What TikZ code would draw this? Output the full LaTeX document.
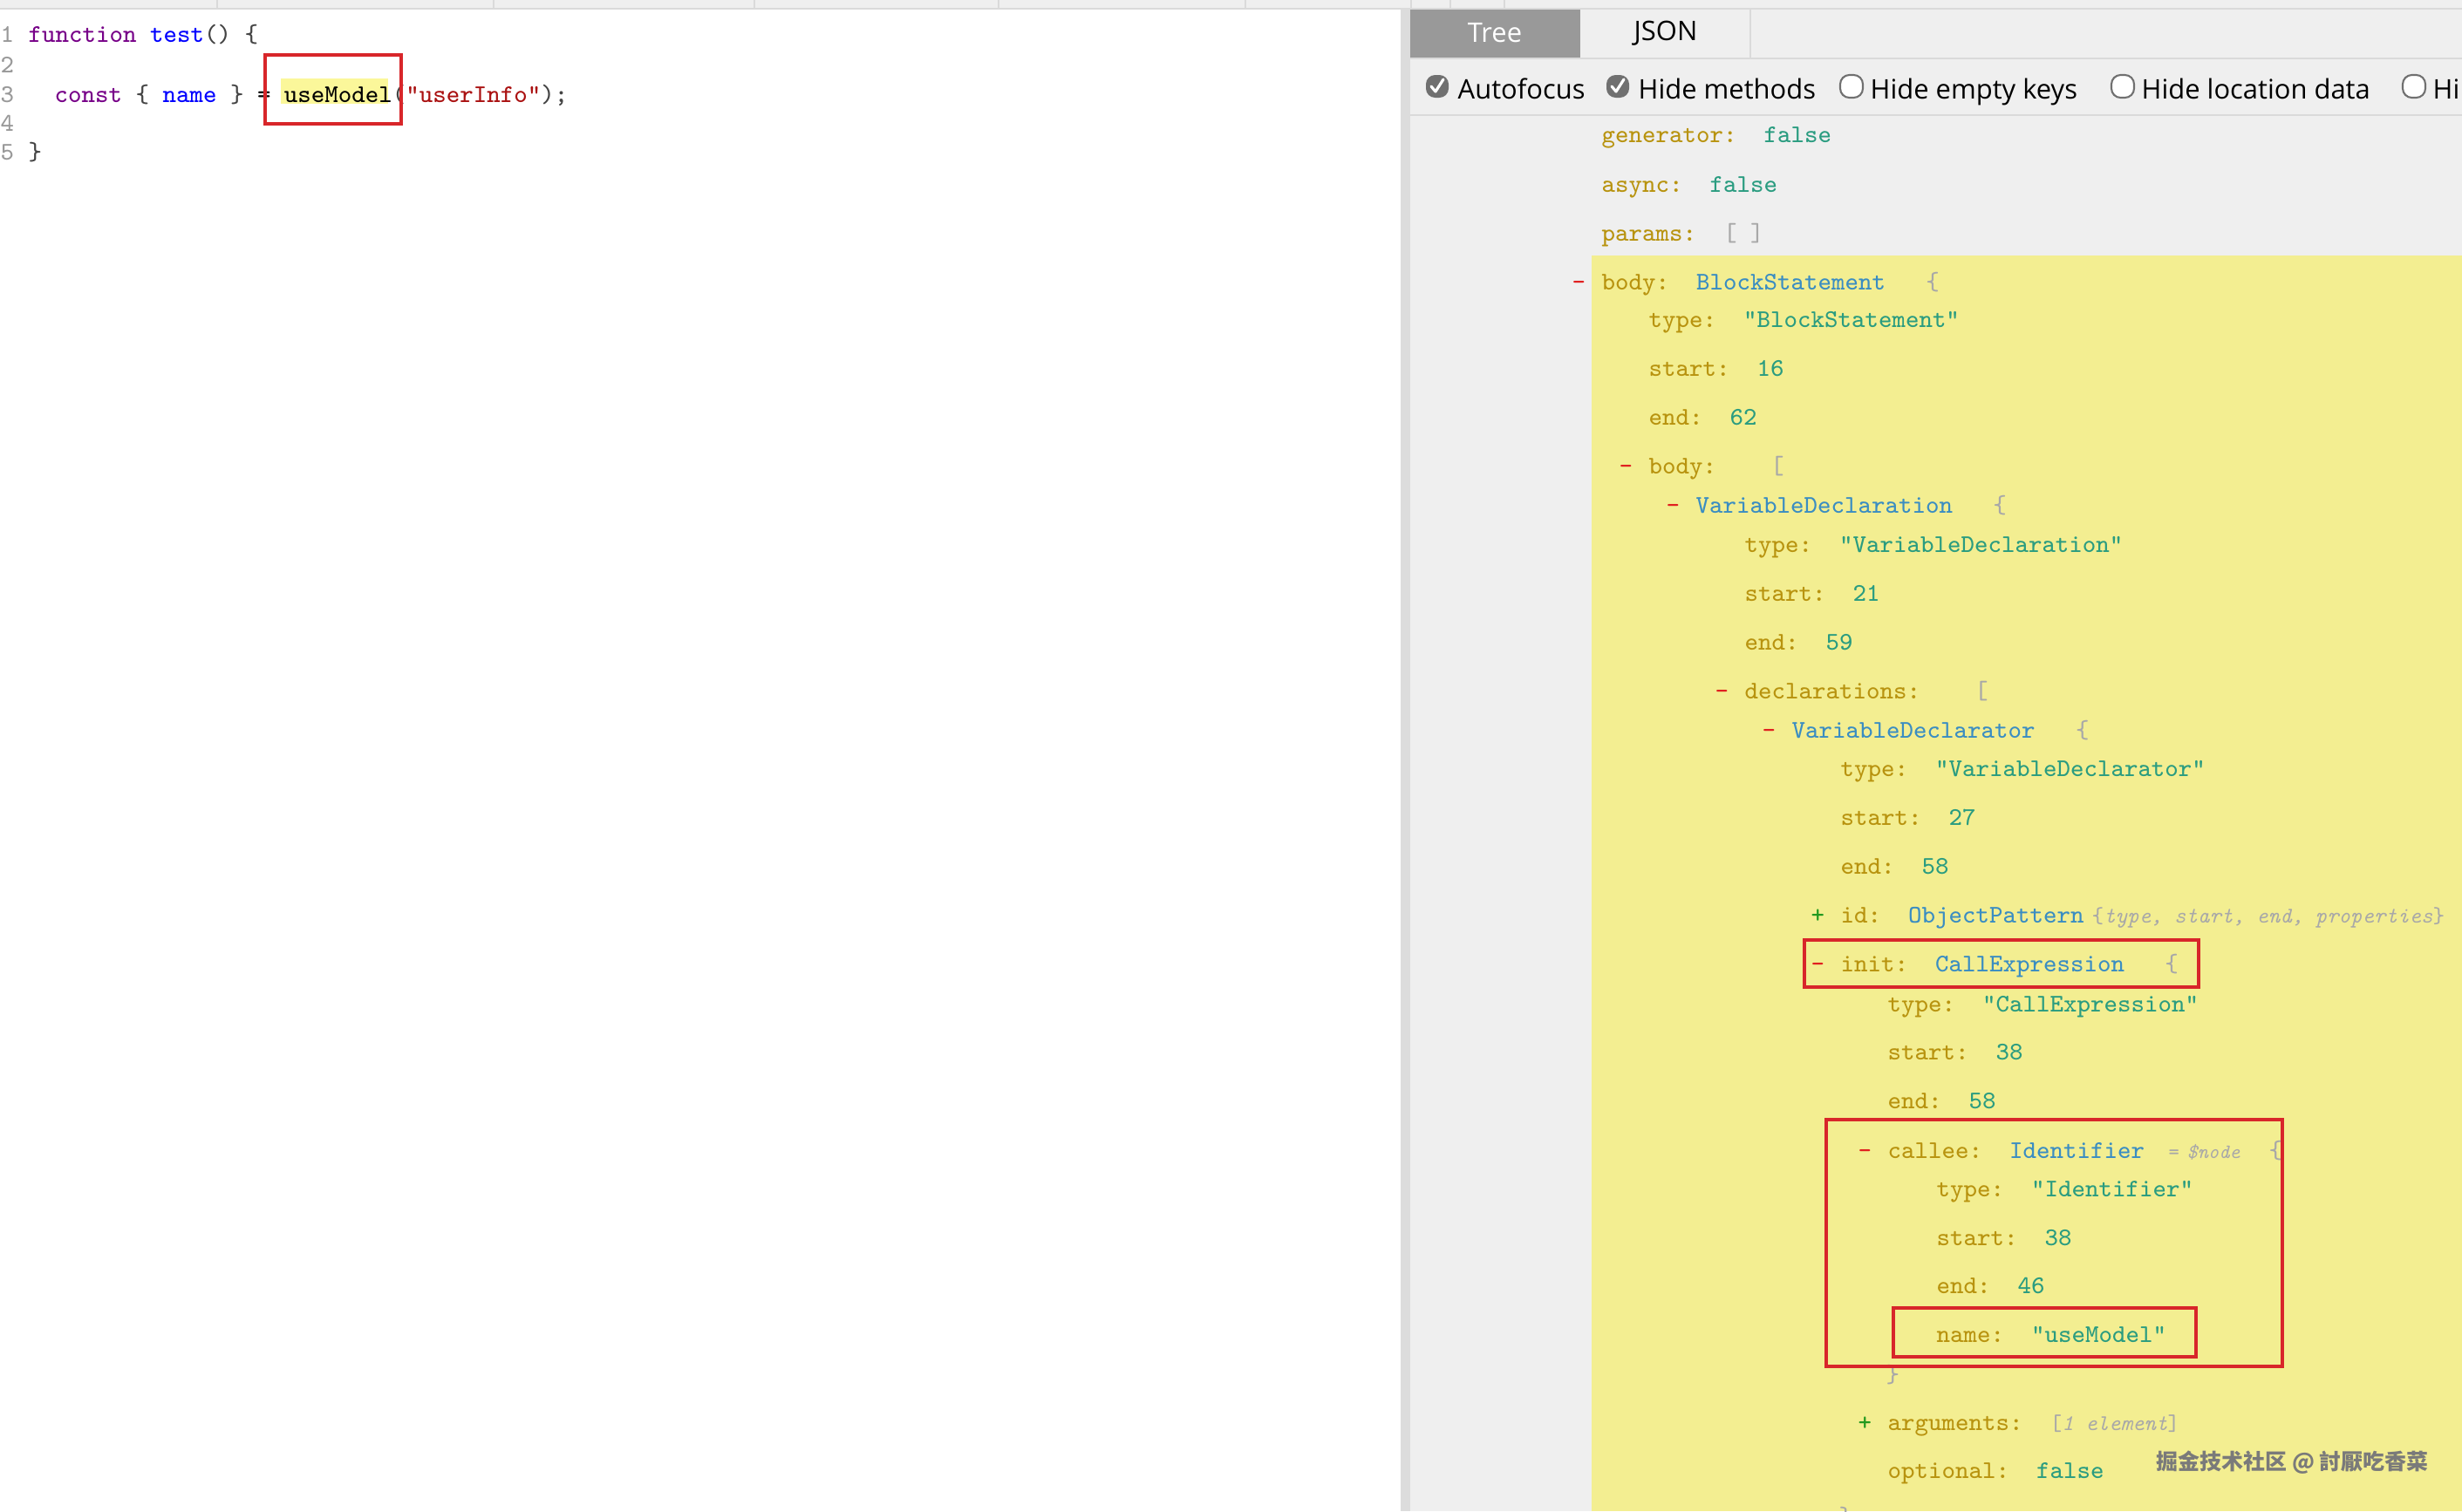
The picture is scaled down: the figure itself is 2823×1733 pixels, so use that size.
\documentclass[tikz,border=0pt]{standalone}
\usepackage{fontspec}
\newfontfamily\uifont{Open Sans}
\newfontfamily\cjkfont{Noto Sans CJK SC}

\definecolor{panel}{HTML}{EFEFEF}
\definecolor{sepc}{HTML}{DADADA}
\definecolor{divc}{HTML}{DCDCDC}
\definecolor{tabc}{HTML}{999999}
\definecolor{hl}{HTML}{F3EE91}
\definecolor{codehl}{HTML}{FBF79A}
\definecolor{boxred}{HTML}{D8262A}
\definecolor{keyc}{HTML}{B8930F}
\definecolor{typec}{HTML}{3A8DC2}
\definecolor{valc}{HTML}{2A9C80}
\definecolor{hintc}{HTML}{A8A8A8}
\definecolor{minusc}{HTML}{E02020}
\definecolor{plusc}{HTML}{22991F}
\definecolor{kwc}{HTML}{770088}
\definecolor{varc}{HTML}{0000FF}
\definecolor{strc}{HTML}{AA1111}
\definecolor{punc}{HTML}{444444}
\definecolor{lnc}{HTML}{999999}
\definecolor{boxc}{HTML}{707070}
\definecolor{wmc}{HTML}{7A7A7A}

\newcommand\tkey[1]{\textcolor{keyc}{#1}}
\newcommand\tval[1]{\textcolor{valc}{#1}}
\newcommand\ttyp[1]{\textcolor{typec}{#1}}
\newcommand\tgry[1]{\textcolor{hintc}{#1}}

\begin{document}
\begin{tikzpicture}[x=0.1mm,y=-0.1mm,
  code/.style={anchor=base west,inner sep=0pt,font=\ttfamily\fontsize{8.3}{10}\selectfont},
  tree/.style={anchor=base west,inner sep=0pt,font=\ttfamily\fontsize{8.3}{10}\selectfont},
  treesign/.style={anchor=base west,inner sep=0pt,font=\ttfamily\fontsize{8.3}{10}\selectfont},
  treehint/.style={anchor=base west,inner sep=0pt,text=hintc,font=\ttfamily\itshape\fontsize{7.3}{9}\selectfont},
  uitext/.style={anchor=base west,inner sep=0pt,font=\uifont\fontsize{8.8}{10}\selectfont},
  redbox/.style={draw=boxred,line width=1.1pt}]

        \useasboundingbox (0,0) rectangle (2823,1733);
        \clip (0,0) rectangle (2823,1733);

        \fill[white] (0,0) rectangle (2823,1733);
        \fill[panel] (0,0) rectangle (2823,10);
        \draw[sepc,line width=.6pt] (0,10) -- (2823,10);
        \foreach \x in {249,566,865,1145,1428,1618,1663,1725}
          \draw[sepc,line width=.4pt] (\x,0) -- (\x,10);

        \fill[divc] (1606,10) rectangle (1617,1733);
        \fill[panel] (1617,11) rectangle (2823,1733);
        \fill[tabc] (1617,11) rectangle (1812,66);
        \draw[sepc,line width=.4pt] (2007,11) -- (2007,66);
        \draw[sepc,line width=.6pt] (1617,67) -- (2823,67);
        \draw[sepc,line width=.6pt] (1617,132) -- (2823,132);
        \fill[hl] (1825,293) rectangle (2823,1733);

        \node[font=\uifont\fontsize{8.8}{10}\selectfont,text=white,inner sep=0pt] (tabtree) at (1714,38) {Tree};
        \node[font=\uifont\fontsize{8.8}{10}\selectfont,inner sep=0pt] (tabjson) at (1910,38) {JSON};

        \foreach \x/\t/\n in {1635/Autofocus/af,1842/Hide methods/hm} {
          \fill[boxc,rounded corners=3] (\x,86) rectangle (\x+26,112);
          \draw[white,line width=.9pt,line cap=round,line join=round] (\x+6,99) -- (\x+11,105) -- (\x+20,91);
          \node[uitext] (cb\n) at (\x+36,113) {\t};
        }
        \foreach \x/\t/\n in {2110/Hide empty keys/hek,2421/Hide location data/hld,2755/Hi/hx} {
          \draw[boxc,fill=white,rounded corners=3,line width=.6pt] (\x,86) rectangle (\x+26,112);
          \node[uitext] (cb\n) at (\x+34,113) {\t};
        }

        \node[code] (ln1) at (0,48) {\textcolor{lnc}{1}};
        \node[code] (ln2) at (0,83) {\textcolor{lnc}{2}};
        \node[code] (ln3) at (0,117) {\textcolor{lnc}{3}};
        \node[code] (ln4) at (0,150) {\textcolor{lnc}{4}};
        \node[code] (ln5) at (0,183) {\textcolor{lnc}{5}};

        \fill[codehl] (322,90) rectangle (445,119);
        \node[code] (code1) at (32,48) {\textcolor{kwc}{function} \textcolor{varc}{test}\textcolor{punc}{() \{}};
        \node[code] (code3) at (62,117) {\textcolor{kwc}{const} \textcolor{punc}{\{} \textcolor{varc}{name} \textcolor{punc}{\}} = useModel\textcolor{punc}{(}\textcolor{strc}{"userInfo"}\textcolor{punc}{);}};
        \node[code] (code5) at (32,183) {\textcolor{punc}{\}}};
        \draw[redbox] (304,63) rectangle (460,142);

        \node[tree] (r1) at (1836,163) {\tkey{generator:}\ \ \tval{false}};
        \node[tree] (r2) at (1836,220) {\tkey{async:}\ \ \tval{false}};
        \node[tree] (r3) at (1836,276) {\tkey{params:}\ \ \tgry{[ ]}};
        \node[treesign,text=minusc] (s4) at (1802,332) {-};
        \node[tree] (r4) at (1836,332) {\tkey{body:}\ \ \ttyp{BlockStatement}\ \ \ \tgry{\{}};
        \node[tree] (r5) at (1890,375) {\tkey{type:}\ \ \tval{"BlockStatement"}};
        \node[tree] (r6) at (1890,431) {\tkey{start:}\ \ \tval{16}};
        \node[tree] (r7) at (1890,487) {\tkey{end:}\ \ \tval{62}};
        \node[treesign,text=minusc] (s8) at (1856,543) {-};
        \node[tree] (r8) at (1890,543) {\tkey{body:}\ \ \ \ \tgry{[}};
        \node[treesign,text=minusc] (s9) at (1910,588) {-};
        \node[tree] (r9) at (1944,588) {\ttyp{VariableDeclaration}\ \ \ \tgry{\{}};
        \node[tree] (r10) at (2000,633) {\tkey{type:}\ \ \tval{"VariableDeclaration"}};
        \node[tree] (r11) at (2000,689) {\tkey{start:}\ \ \tval{21}};
        \node[tree] (r12) at (2000,745) {\tkey{end:}\ \ \tval{59}};
        \node[treesign,text=minusc] (s13) at (1966,801) {-};
        \node[tree] (r13) at (2000,801) {\tkey{declarations:}\ \ \ \ \tgry{[}};
        \node[treesign,text=minusc] (s14) at (2020,846) {-};
        \node[tree] (r14) at (2054,846) {\ttyp{VariableDeclarator}\ \ \ \tgry{\{}};
        \node[tree] (r15) at (2110,890) {\tkey{type:}\ \ \tval{"VariableDeclarator"}};
        \node[tree] (r16) at (2110,946) {\tkey{start:}\ \ \tval{27}};
        \node[tree] (r17) at (2110,1002) {\tkey{end:}\ \ \tval{58}};
        \node[treesign,text=plusc] (s18) at (2076,1058) {+};
        \node[tree] (r18) at (2110,1058) {\tkey{id:}\ \ \ttyp{ObjectPattern}};
        \node[treehint] (h18) at (2398,1058) {\upshape\{\itshape type, start, end, properties\upshape\}};
        \node[treesign,text=minusc] (s19) at (2076,1114) {-};
        \node[tree] (r19) at (2110,1114) {\tkey{init:}\ \ \ttyp{CallExpression}\ \ \ \tgry{\{}};
        \node[tree] (r20) at (2164,1160) {\tkey{type:}\ \ \tval{"CallExpression"}};
        \node[tree] (r21) at (2164,1215) {\tkey{start:}\ \ \tval{38}};
        \node[tree] (r22) at (2164,1271) {\tkey{end:}\ \ \tval{58}};
        \node[treesign,text=minusc] (s23) at (2130,1328) {-};
        \node[tree] (r23) at (2164,1328) {\tkey{callee:}\ \ \ttyp{Identifier}};
        \node[treehint,font=\ttfamily\fontsize{6.6}{8}\selectfont] (e23) at (2486,1328) {=};
        \node[treehint,font=\ttfamily\itshape\fontsize{6.6}{8}\selectfont] (h23) at (2507,1328) {\$node};
        \node[tree] (b23) at (2601,1328) {\tgry{\{}};
        \node[tree] (r24) at (2220,1372) {\tkey{type:}\ \ \tval{"Identifier"}};
        \node[tree] (r25) at (2220,1428) {\tkey{start:}\ \ \tval{38}};
        \node[tree] (r26) at (2220,1483) {\tkey{end:}\ \ \tval{46}};
        \node[tree] (r27) at (2220,1539) {\tkey{name:}\ \ \tval{"useModel"}};
        \node[tree] (r28) at (2162,1585) {\tgry{\}}};
        \node[treesign,text=plusc] (s29) at (2130,1640) {+};
        \node[tree] (r29) at (2164,1640) {\tkey{arguments:}};
        \node[treehint] (h29) at (2350,1640) {\upshape[\itshape 1 element\upshape]};
        \node[tree] (r30) at (2164,1695) {\tkey{optional:}\ \ \tval{false}};
        \node[tree] (r31) at (2108,1748) {\tgry{\}}};

        \draw[redbox] (2069,1078) rectangle (2521,1132);
        \draw[redbox] (2094,1284) rectangle (2617,1567);
        \draw[redbox] (2171,1500) rectangle (2518,1556);

        \node[anchor=west,inner sep=0pt,text=wmc,font=\cjkfont\bfseries\fontsize{7.1}{8}\selectfont] (wm) at (2472,1677) {掘金技术社区 @ 討厭吃香菜};

      \end{tikzpicture}
\end{document}
